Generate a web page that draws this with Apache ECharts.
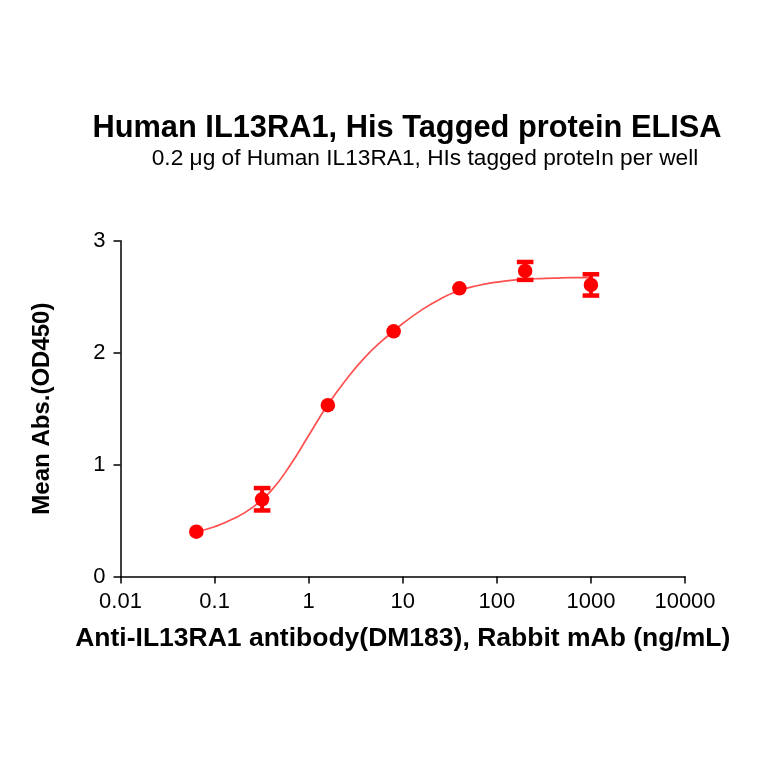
<!DOCTYPE html>
<html>
<head>
<meta charset="utf-8">
<script src="https://cdn.jsdelivr.net/npm/echarts@6/dist/echarts.min.js"></script>
<style>
  html, body { margin: 0; padding: 0; background: #fff; }
  #chart { width: 764px; height: 764px; }
</style>
</head>
<body>
<div id="chart"></div>
<script>
// concentrations (ng/mL), 5-fold dilutions
const conc = [0.064, 0.32, 1.6, 8, 40, 200, 1000];
// mean OD450 and error (SD); 0 = bar hidden behind the marker
const meanOD = [0.40, 0.69, 1.53, 2.19, 2.575, 2.73, 2.605];
const errOD = [0, 0.10, 0, 0, 0, 0.08, 0.095];
// fitted curve
const curveX = [0.064, 0.1, 0.158, 0.251, 0.398, 0.631, 1, 1.585, 2.51, 3.98, 6.31, 10, 15.8, 25.1, 39.8, 63.1, 100, 158, 251, 398, 631, 1000];
const curveY = [0.40, 0.445, 0.515, 0.615, 0.765, 0.99, 1.26, 1.53, 1.76, 1.96, 2.12, 2.26, 2.38, 2.48, 2.555, 2.60, 2.63, 2.65, 2.66, 2.665, 2.67, 2.67];
const yTicks = [0, 1, 2, 3];

const RED = '#ff0000';
const FONT = 'Liberation Sans, Arial, sans-serif';

const el = document.getElementById('chart');
const chart = echarts.init(el, null, { renderer: 'canvas' });

chart.setOption({
  animation: false,
  backgroundColor: '#fff',
  title: [
    {
      text: 'Human IL13RA1, His Tagged protein ELISA',
      left: 402, top: 108, textAlign: 'center',
      textStyle: { fontFamily: FONT, fontSize: 30.8, fontWeight: 'bold', color: '#000' }
    },
    {
      text: '0.2 \u03bcg of Human IL13RA1, HIs tagged proteIn per well',
      left: 420, top: 142, textAlign: 'center',
      textStyle: { fontFamily: FONT, fontSize: 22.7, fontWeight: 'normal', color: '#000' }
    }
  ],
  grid: { left: 120.5, right: 79, top: 240.7, bottom: 187.5 },
  xAxis: {
    type: 'log',
    logBase: 10,
    min: 0.01,
    max: 10000,
    name: 'Anti-IL13RA1 antibody(DM183), Rabbit mAb (ng/mL)',
    nameLocation: 'middle',
    nameGap: 49,
    nameTextStyle: { fontFamily: FONT, fontSize: 26.5, fontWeight: 'bold', color: '#000' },
    axisLine: { lineStyle: { color: '#000', width: 1.5 } },
    axisTick: { inside: false, length: 7, lineStyle: { color: '#000', width: 1.5 } },
    minorTick: { show: false },
    splitLine: { show: false },
    axisLabel: {
      fontFamily: FONT, fontSize: 22, color: '#000', margin: 14,
      formatter: v => String(+v)
    }
  },
  yAxis: {
    type: 'value',
    min: 0,
    max: 3,
    interval: 1,
    name: 'Mean Abs.(OD450)',
    nameLocation: 'middle',
    nameGap: 66,
    nameTextStyle: { fontFamily: FONT, fontSize: 24, fontWeight: 'bold', color: '#000' },
    axisLine: { show: true, lineStyle: { color: '#000', width: 1.5 } },
    axisTick: { show: true, length: 7, lineStyle: { color: '#000', width: 1.5 } },
    splitLine: { show: false },
    axisLabel: {
      fontFamily: FONT, fontSize: 22, color: '#000', margin: 15,
      formatter: v => yTicks.includes(v) ? String(v) : ''
    }
  },
  series: [
    {
      name: 'fit',
      type: 'line',
      smooth: true,
      showSymbol: false,
      data: curveX.map((x, i) => [x, curveY[i]]),
      lineStyle: { color: '#ff5050', width: 1.7 },
      z: 2
    },
    {
      name: 'error',
      type: 'custom',
      data: conc.map((x, i) => [x, meanOD[i] - errOD[i], meanOD[i] + errOD[i]]),
      renderItem: (params, api) => {
        if (api.value(2) - api.value(1) <= 0) return null;
        const lo = api.coord([api.value(0), api.value(1)]);
        const hi = api.coord([api.value(0), api.value(2)]);
        const hw = 8.3;
        const st = { stroke: RED, lineWidth: 4.5 };
        return {
          type: 'group',
          children: [
            { type: 'line', shape: { x1: lo[0], y1: lo[1], x2: hi[0], y2: hi[1] }, style: { stroke: RED, lineWidth: 4 } },
            { type: 'line', shape: { x1: lo[0] - hw, y1: lo[1], x2: lo[0] + hw, y2: lo[1] }, style: st },
            { type: 'line', shape: { x1: hi[0] - hw, y1: hi[1], x2: hi[0] + hw, y2: hi[1] }, style: st }
          ]
        };
      },
      z: 3
    },
    {
      name: 'mean',
      type: 'scatter',
      symbol: 'circle',
      symbolSize: 14.5,
      data: conc.map((x, i) => [x, meanOD[i]]),
      itemStyle: { color: RED, opacity: 1 },
      z: 4
    }
  ]
});
</script>
</body>
</html>
